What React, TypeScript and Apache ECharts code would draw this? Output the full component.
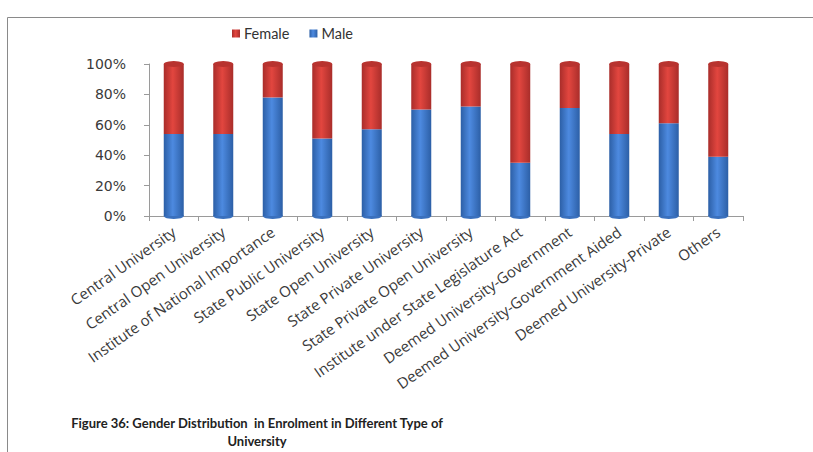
import React, { useEffect, useRef } from "react";
import * as echarts from "echarts";

const categories = [
  "Central University",
  "Central Open University",
  "Institute of National Importance",
  "State Public University",
  "State Open University",
  "State Private University",
  "State Private Open University",
  "Institute under State Legislature Act",
  "Deemed University-Government",
  "Deemed University-Government Aided",
  "Deemed University-Private",
  "Others",
];
const maleShare = [54, 54, 78, 51, 57, 70, 72, 35, 71, 54, 61, 39];
const femaleShare = [46, 46, 22, 49, 43, 30, 28, 65, 29, 46, 39, 61];
const yTicks = ["0%", "20%", "40%", "60%", "80%", "100%"];
const legendNames = ["Female", "Male"];
const titleLines = ["Figure 36: Gender Distribution  in Enrolment in Different Type of", "University"];

const cyl = (edge: string, mid: string) =>
  new echarts.graphic.LinearGradient(0, 0, 1, 0, [
    { offset: 0, color: edge },
    { offset: 0.45, color: mid },
    { offset: 1, color: edge },
  ]);

export default function App() {
  const ref = useRef<HTMLDivElement>(null);
  useEffect(() => {
    if (!ref.current) return;
    const chart = echarts.init(ref.current, undefined, { renderer: "svg" });
    const totals = maleShare.map((m, i) => m + femaleShare[i]);
    chart.setOption({
      animation: false,
      backgroundColor: "#ffffff",
      title: {
        text: titleLines.join("\n"),
        left: 257,
        top: 414,
        padding: 0,
        textAlign: "center",
        textStyle: {
          fontFamily: "Lato, sans-serif",
          fontWeight: "bold",
          fontSize: 13,
          lineHeight: 18,
          color: "#222",
        },
      },
      legend: {
        data: legendNames,
        left: 227,
        top: 21,
        itemWidth: 8,
        itemHeight: 8,
        itemGap: 20,
        icon: "rect",
        textStyle: {
          fontFamily: "Lato, 'Open Sans', sans-serif",
          fontSize: 14.5,
          color: "#333",
          padding: [0, 0, 0, -1],
        },
      },
      graphic: [
        {
          type: "rect",
          shape: { x: 7.5, y: 17.5, width: 900, height: 500 },
          style: { fill: "none", stroke: "#8a8a8a", lineWidth: 1 },
          silent: true,
        },
      ],
      grid: { left: 149, right: 70, top: 64, bottom: 236 },
      xAxis: {
        type: "category",
        data: categories,
        axisLine: { show: true, lineStyle: { color: "#9a9a9a" } },
        axisTick: { show: true, length: 5, lineStyle: { color: "#9a9a9a" } },
        axisLabel: {
          rotate: 35,
          interval: 0,
          margin: 14,
          fontFamily: "'Open Sans', sans-serif",
          fontSize: 15,
          color: "#3a3a3a",
        },
      },
      yAxis: {
        type: "value",
        min: 0,
        max: 100,
        interval: 20,
        axisLine: { show: true, lineStyle: { color: "#9a9a9a" } },
        axisTick: { show: true, length: 5, lineStyle: { color: "#9a9a9a" } },
        splitLine: { show: false },
        axisLabel: {
          formatter: (v: number) => yTicks[Math.round(v / 20)],
          fontFamily: "'DejaVu Sans', sans-serif",
          fontSize: 14,
          color: "#3a3a3a",
          margin: 23,
        },
      },
      series: [
        {
          name: "Male",
          type: "bar",
          stack: "total",
          barWidth: 20,
          data: maleShare,
          itemStyle: { color: cyl("#2c5fa6", "#4d8ae0") },
          z: 2,
        },
        {
          name: "Female",
          type: "bar",
          stack: "total",
          barWidth: 20,
          data: femaleShare,
          itemStyle: { color: cyl("#a92d2a", "#e2463f") },
          z: 2,
        },
        {
          name: "cap",
          type: "pictorialBar",
          symbol: "circle",
          symbolSize: [20, 6],
          symbolPosition: "end",
          symbolOffset: [0, "-50%"],
          data: totals,
          itemStyle: { color: "#b8332f" },
          z: 3,
          silent: true,
        },
        {
          name: "base",
          type: "pictorialBar",
          symbol: "circle",
          symbolSize: [20, 6],
          symbolPosition: "start",
          symbolOffset: [0, "50%"],
          data: maleShare,
          itemStyle: { color: "#3a70bd" },
          z: 1,
          silent: true,
        },
      ],
      color: ["#4a7ebf", "#b8474f"],
    });
    return () => chart.dispose();
  }, []);
  return (
    <div
      ref={ref}
      style={{ position: "fixed", left: 0, top: 0, width: 813, height: 452 }}
    />
  );
}
